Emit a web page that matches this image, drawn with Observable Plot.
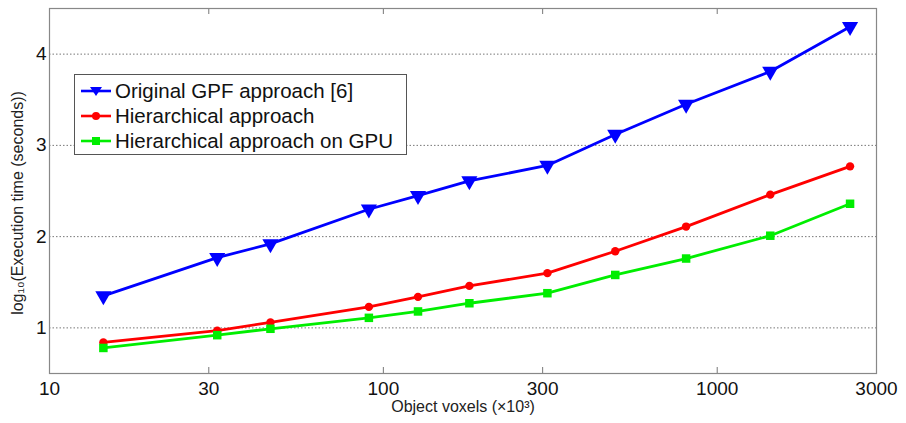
<!DOCTYPE html>
<html>
<head>
<meta charset="utf-8">
<script src="https://cdn.jsdelivr.net/npm/d3@7"></script>
<script src="https://cdn.jsdelivr.net/npm/@observablehq/plot@0.6"></script>
<style>
  html, body { margin: 0; padding: 0; background: #fff; }
  #wrap { position: relative; width: 906px; height: 423px; font-family: "Liberation Sans", Arial, sans-serif; }
  #legend { position: absolute; left: 74px; top: 74px; width: 333px; height: 81px; border: 1px solid #555; background: #fff; box-sizing: border-box; padding-top: 3px; }
  .item { display: flex; align-items: center; height: 25px; font-size: 20.5px; color: #111; white-space: nowrap; }
  .item svg { margin-left: 5px; margin-right: 3px; flex: none; }
</style>
</head>
<body>
<div id="wrap">
  <div id="chart"></div>
  <div id="legend"></div>
</div>
<script>
const voxels = [14.5, 31.8, 45.9, 90.5, 127, 181, 310, 495, 807, 1442, 2500];
const originalGPF = [1.35, 1.77, 1.92, 2.30, 2.45, 2.61, 2.78, 3.12, 3.45, 3.81, 4.30];
const hierarchical = [0.84, 0.97, 1.06, 1.23, 1.34, 1.46, 1.60, 1.84, 2.11, 2.46, 2.77];
const hierarchicalGPU = [0.78, 0.92, 0.99, 1.11, 1.18, 1.27, 1.38, 1.58, 1.76, 2.01, 2.36];
const seriesNames = ["Original GPF approach [6]", "Hierarchical approach", "Hierarchical approach on GPU"];
const seriesColors = ["#0000ff", "#ff0000", "#00ee00"];
const xTicks = [10, 30, 100, 300, 1000, 3000];
const xInnerTicks = [30, 100, 300, 1000];
const yTicks = [1, 2, 3, 4];
const xLabel = "Object voxels (\u00d710\u00b3)";
const yLabel = "log\u2081\u2080(Execution time (seconds))";

const rows = (vals, s) => voxels.map((v, i) => ({x: v, y: vals[i], s}));
const blue = rows(originalGPF, seriesNames[0]);
const red = rows(hierarchical, seriesNames[1]);
const green = rows(hierarchicalGPU, seriesNames[2]);

const W = 906, H = 423;
const mL = 49, mR = 30, mT = 8, mB = 50;
const plotH = H - mT - mB;

const chart = Plot.plot({
  width: W, height: H,
  marginLeft: mL, marginRight: mR, marginTop: mT, marginBottom: mB,
  style: {fontFamily: "'Liberation Sans', Arial, sans-serif", background: "transparent"},
  x: {type: "log", domain: [10, 3000]},
  y: {domain: [0.5, 4.5]},
  marks: [
    Plot.ruleY(yTicks, {stroke: "#777", strokeWidth: 1, strokeDasharray: "1.5,2"}),
    Plot.ruleX(xInnerTicks, {stroke: "#777", insetTop: plotH - 6}),
    Plot.ruleX(xInnerTicks, {stroke: "#777", insetBottom: plotH - 6}),
    Plot.frame({stroke: "#888", strokeWidth: 1.2}),
    Plot.axisX({ticks: xTicks, tickSize: 0, tickPadding: 8, fontSize: 19, tickFormat: d => String(d), label: null, fill: "#111"}),
    Plot.axisY({ticks: yTicks, tickSize: 0, tickPadding: 3, fontSize: 19, tickFormat: d => String(d), label: null, fill: "#111"}),
    Plot.line(blue, {x: "x", y: "y", stroke: seriesColors[0], strokeWidth: 2.8}),
    Plot.line(red, {x: "x", y: "y", stroke: seriesColors[1], strokeWidth: 2.8}),
    Plot.line(green, {x: "x", y: "y", stroke: seriesColors[2], strokeWidth: 2.8}),
    Plot.dot(blue, {x: "x", y: "y", symbol: "triangle", rotate: 180, r: 6, fill: seriesColors[0], stroke: "none"}),
    Plot.dot(red, {x: "x", y: "y", symbol: "circle", r: 4.2, fill: seriesColors[1], stroke: "none"}),
    Plot.dot(green, {x: "x", y: "y", symbol: "square", r: 4.8, fill: seriesColors[2], stroke: "none"}),
    Plot.text([xLabel], {frameAnchor: "bottom", dy: 38, fontSize: 16, fill: "#222", text: d => d}),
    Plot.text([yLabel], {frameAnchor: "left", textAnchor: "middle", dx: -32, dy: 12, rotate: -90, fontSize: 16, fill: "#222", text: d => d})
  ]
});
document.getElementById("chart").appendChild(chart);

const legend = document.getElementById("legend");
const symbols = [
  '<path d="M-6,-4 L6,-4 L0,5 Z"/>',
  '<circle r="4"/>',
  '<rect x="-4" y="-4" width="8" height="8"/>'
];
seriesNames.forEach((n, i) => {
  const it = document.createElement("div");
  it.className = "item";
  it.innerHTML = `<svg width="32" height="14"><line x1="1" x2="31" y1="7" y2="7" stroke="${seriesColors[i]}" stroke-width="2.6"/><g transform="translate(16,7)" fill="${seriesColors[i]}">${symbols[i]}</g></svg><span>${n}</span>`;
  legend.appendChild(it);
});
</script>
</body>
</html>
